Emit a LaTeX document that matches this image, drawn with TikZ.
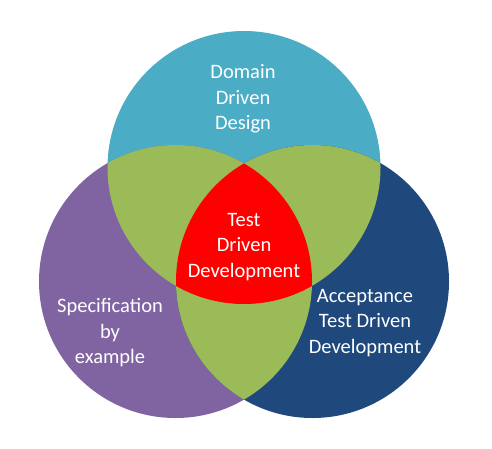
\documentclass[tikz,border=0pt]{standalone}
\usepackage{fontspec}
\setmainfont{Carlito}
\definecolor{ddd}{HTML}{4BACC6}
\definecolor{sbe}{HTML}{8064A2}
\definecolor{atdd}{HTML}{1F497D}
\definecolor{overlap}{HTML}{9BBB59}
\definecolor{core}{HTML}{FF0000}
\begin{document}
\begin{tikzpicture}[x=1pt,y=-1pt,
  label/.style={text=white,align=center,inner sep=0pt,
    font=\fontsize{20.5}{25.5}\selectfont}]
\useasboundingbox (0,0) rectangle (492,448);
\def\rad{136.5}
\coordinate (ct) at (244,167.5);
\coordinate (cl) at (175.5,281.5);
\coordinate (cr) at (312.5,281.5);
% base circles
\fill[ddd] (ct) circle (\rad);
\fill[sbe] (cl) circle (\rad);
\fill[atdd] (cr) circle (\rad);
% pairwise overlaps
\begin{scope}
  \clip (ct) circle (\rad);
  \fill[overlap] (cl) circle (\rad);
  \fill[overlap] (cr) circle (\rad);
\end{scope}
\begin{scope}
  \clip (cl) circle (\rad);
  \fill[overlap] (cr) circle (\rad);
\end{scope}
% common region
\begin{scope}
  \clip (ct) circle (\rad);
  \clip (cl) circle (\rad);
  \fill[core] (cr) circle (\rad);
\end{scope}
% labels
\node[label] (tddd) at (243,99) {Domain\\Driven\\Design};
\node[label] (ttdd) at (244,247) {Test\\Driven\\Development};
\node[label] (tsbe) at (110,333) {Specification\\by\\example};
\node[label] (tatdd) at (365,323) {Acceptance\\Test Driven\\Development};
\end{tikzpicture}
\end{document}
